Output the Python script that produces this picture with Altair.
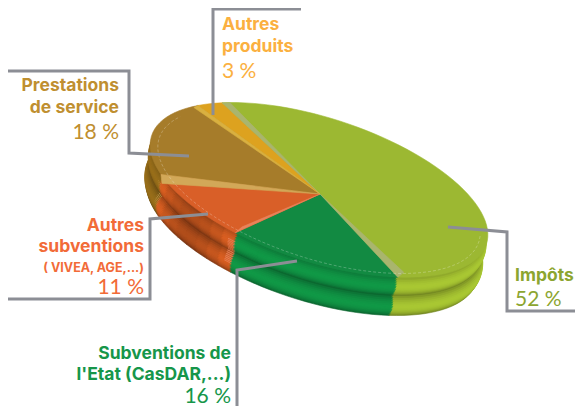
import math
import altair as alt
import pandas as pd

# ---- values
categories = ["Impôts", "Subventions de l'Etat", "Autres subventions", "Prestations de service", "Autres produits"]
shares = [52, 16, 11, 18, 3]
top_colors = ["#9CB832", "#128A42", "#D95F28", "#A67C2A", "#DDA21F"]
wall_colors = ["#9AB52E", "#0F8A40", "#C9581F", "#8A6418", "#C8921A"]
face_colors = ["#B5CC55", "#2BA35A", "#E8835A", "#D2A858", "#E0B040"]

label_texts = ["Autres", "produits", "3 %", "Prestations", "de service", "18 %",
               "Autres", "subventions", "( VIVEA, AGE,...)", "11 %",
               "Subventions de", "l'Etat (CasDAR,...)", "16 %", "Impôts", "52 %"]
label_x = [222, 222, 222, 119, 119, 119, 144, 144, 144, 144, 231, 231, 231, 515, 515]
label_y = [30, 52, 78, 91, 113, 139, 231, 252, 272, 294, 359, 380, 403, 281, 306]
label_align = ["left"] * 3 + ["right"] * 10 + ["left"] * 2
label_size = [17.5, 17.5, 21, 17.5, 17.5, 21, 17.5, 17.5, 12.5, 21, 17.5, 17.5, 21, 17.5, 21]
label_bold = [1, 1, 0, 1, 1, 0, 1, 1, 1, 0, 1, 1, 0, 1, 0]
label_color = ["#FBB040"] * 3 + ["#BF8F30"] * 3 + ["#F26B38"] * 4 + ["#16964A"] * 3 + ["#8CA530"] * 2

leader_id = [1, 1, 1, 1, 2, 2, 2, 2, 3, 3, 3, 3, 4, 4, 4, 5, 5, 5, 5]
leader_x = [301, 213, 213, 213, 8, 129, 129, 189, 8, 150, 150, 208, 237, 237, 297, 448, 507, 507, 583]
leader_y = [9, 9, 115, 115, 71, 71, 153, 156, 299, 299, 219, 214, 414, 270, 261, 227, 232, 311, 311]

# ---- tilted ellipse that holds the pie
W, H = 567, 398
CX, CY, A, B, ROT = 319, 190, 176, 72, math.radians(18)
APEX = (320, 194)
START = -132.6
WALL_DX, WALL_DY = -7, 40
LEVELS = 26


def ell(t, s=1.0, dx=0.0, dy=0.0):
    r = math.radians(t)
    u, v = A * s * math.cos(r), B * s * math.sin(r)
    return (CX + u * math.cos(ROT) - v * math.sin(ROT) + dx - 8,
            CY + u * math.sin(ROT) + v * math.cos(ROT) + dy - 8)


def feature(points, color):
    pts = [list(p) for p in points]
    pts.append(pts[0])
    return {"type": "Feature", "properties": {"color": color},
            "geometry": {"type": "Polygon", "coordinates": [pts]}}


def shade(hex_color, m):
    rgb = [int(hex_color[i:i + 2], 16) for i in (1, 3, 5)]
    return "#" + "".join(f"{max(0, min(255, round(c * m))):02x}" for c in rgb)


edges = [START]
for sh in shares:
    edges.append(edges[-1] + sh * 3.6)


def arc_between(t0, t1, s=1.0, dx=0.0, dy=0.0, step=3.0):
    n = max(2, int(abs(t1 - t0) / step))
    return [ell(t0 + (t1 - t0) * k / n, s, dx, dy) for k in range(n + 1)]


apex = (APEX[0] - 8, APEX[1] - 8)
features = []
for lev in range(LEVELS, -1, -1):
    f = lev / LEVELS
    lobe = abs(math.sin(2 * math.pi * f))
    s = 0.978 + 0.022 * lobe
    m = 0.74 + 0.36 * lobe ** 0.8
    dx, dy = WALL_DX * f, WALL_DY * f
    ap = (apex[0] + dx, apex[1] + dy)
    for i in range(5):
        t0, t1 = edges[i], edges[i + 1]
        if i == 2:
            # the orange wall falls into shadow toward its middle
            n = 8
            for k in range(n):
                a, b = t0 + (t1 - t0) * k / n, t0 + (t1 - t0) * (k + 1) / n
                mid = math.sin(math.pi * (k + 0.5) / n)
                features.append(feature([ap] + arc_between(a, b, s, dx, dy),
                                        shade(wall_colors[i], m * (1.02 - 0.22 * mid))))
        else:
            features.append(feature([ap] + arc_between(t0, t1, s, dx, dy), shade(wall_colors[i], m)))
        # a lighter cut face where the wall meets its neighbour
        if i in (2, 3) and 0.2 < f < 0.8:
            features.append(feature([ap] + arc_between(t0, t0 + 2.5, s * 0.99, dx, dy),
                                    face_colors[i]))

for i in range(5):
    features.append(feature([apex] + arc_between(edges[i], edges[i + 1]), top_colors[i]))


def strip(t, ox, oy, color):
    c = ell(t)
    features.append(feature([apex, c, (c[0] + ox, c[1] + oy)], color))


strip(edges[3], 1, 9, "#D2A858")    # brown / orange face
strip(edges[2], 7, -6, "#E8835A")   # orange / green face
strip(edges[0], 8, 0, "#A9B56E")    # olive / yellow face
strip(edges[1], 6, -5, "#A9B56E")   # olive / green face
strip(edges[4], -4, 2, "#D9B040")   # yellow face

pie_data = alt.Data(values=features, format=alt.DataFormat(type="json"))
PROJ = dict(type="identity", scale=1, translate=[0, 0])

pie = alt.Chart(pie_data).mark_geoshape(strokeWidth=0.6).encode(
    color=alt.Color("properties.color:N", scale=None, legend=None),
    stroke=alt.Stroke("properties.color:N", scale=None, legend=None),
).project(**PROJ)

dash_pts = [list(ell(t, 0.955)) for t in range(-5, 205, 4)]
dash_data = alt.Data(values=[{"type": "Feature", "properties": {},
                              "geometry": {"type": "LineString", "coordinates": dash_pts}}],
                     format=alt.DataFormat(type="json"))
dashed = alt.Chart(dash_data).mark_geoshape(filled=False, stroke="#FFFFFF", strokeWidth=0.7,
                                            strokeDash=[3, 2], opacity=0.35).project(**PROJ)

x_scale = alt.Scale(domain=[8, 8 + W], range=[0, W], clamp=True)
y_scale = alt.Scale(domain=[8, 8 + H], range=[0, H], clamp=True)

leaders = pd.DataFrame({"id": leader_id, "x": leader_x, "y": leader_y, "o": range(len(leader_x))})
lines = alt.Chart(leaders).mark_line(color="#8C8E95", strokeWidth=3, strokeJoin="miter", clip=False).encode(
    x=alt.X("x:Q", scale=x_scale, axis=None),
    y=alt.Y("y:Q", scale=y_scale, axis=None),
    detail="id:N",
    order="o:Q",
)

labels = pd.DataFrame({"t": label_texts, "x": label_x, "y": label_y, "a": label_align,
                       "s": label_size, "b": label_bold, "c": label_color})


def text_layer(bold, align):
    d = labels[(labels.b == bold) & (labels.a == align)]
    return alt.Chart(d).mark_text(
        align=align, baseline="alphabetic", font="Inter" if bold else "Lato",
        fontWeight="bold" if bold else "normal",
    ).encode(
        x=alt.X("x:Q", scale=x_scale, axis=None),
        y=alt.Y("y:Q", scale=y_scale, axis=None),
        text="t:N",
        size=alt.Size("s:Q", scale=None, legend=None),
        color=alt.Color("c:N", scale=None, legend=None),
    )


texts = [text_layer(b, a) for b in (1, 0) for a in ("left", "right")]

chart = alt.layer(pie, dashed, lines, *texts).resolve_scale(
    x="shared", y="shared"
).properties(
    width=W, height=H, padding=0, autosize=alt.AutoSizeParams(type="none"),
    background="#FFFFFF",
).configure_view(stroke=None)

chart.save("out.html", embed_options={"renderer": "svg", "actions": False})
